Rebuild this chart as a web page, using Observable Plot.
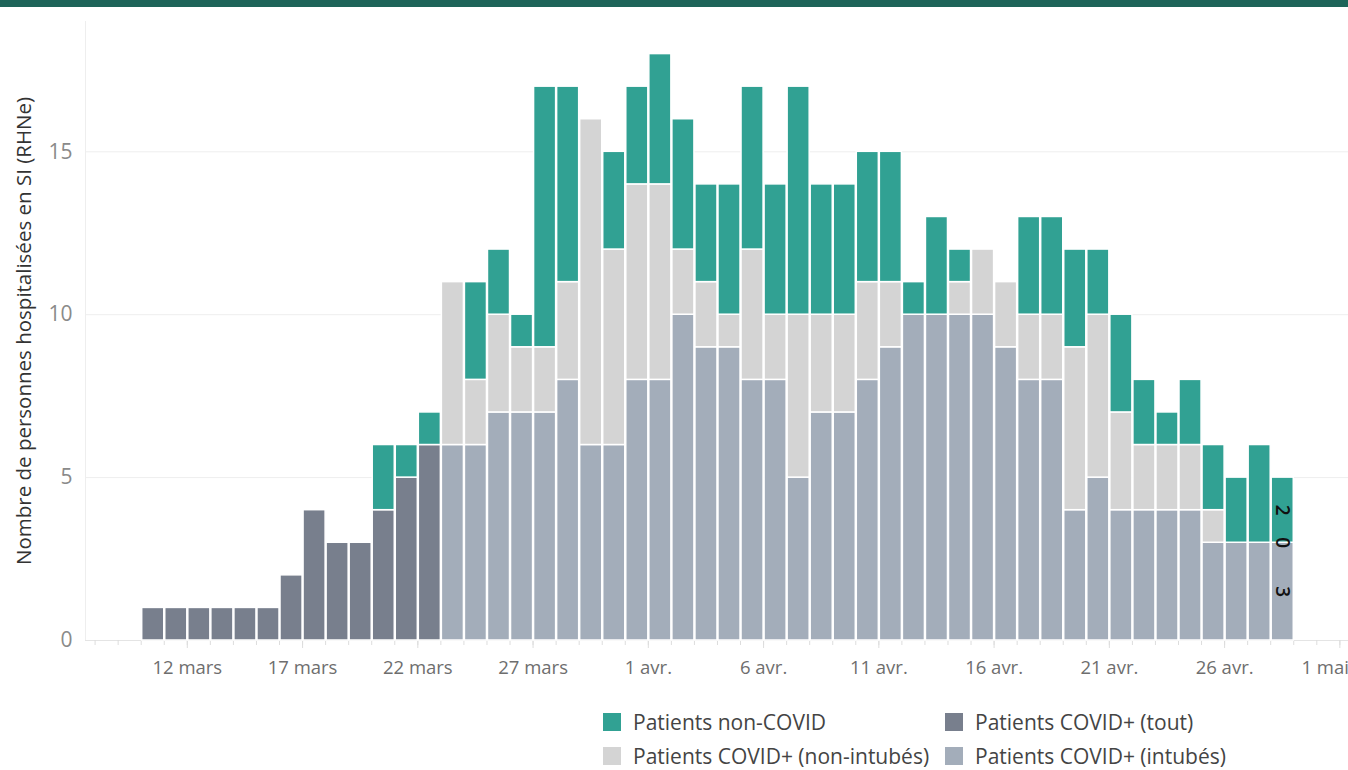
<!DOCTYPE html>
<html>
<head>
<meta charset="utf-8">
<script src="https://cdn.jsdelivr.net/npm/d3@7"></script>
<script src="https://cdn.jsdelivr.net/npm/@observablehq/plot@0.6"></script>
<style>
  html, body { margin: 0; padding: 0; background: #fff; width: 1348px; height: 770px; overflow: hidden; }
  #topbar { position: absolute; left: 0; top: 0; width: 1348px; height: 7px; background: #1e6459; }
  #chart { position: absolute; left: 0; top: 7px; }
  #legend { position: absolute; left: 0; top: 0; font-family: "Open Sans", sans-serif; }
  .item { position: absolute; display: flex; align-items: center; font-size: 21px; color: #444; white-space: nowrap; height: 20px; }
  .sw { width: 18px; height: 18px; margin-right: 12px; flex: none; }
</style>
</head>
<body>
<div id="topbar"></div>
<div id="chart"></div>
<div id="legend"></div>
<script>
// ---- Data ----
const dates = [
  "2020-03-10","2020-03-11","2020-03-12","2020-03-13","2020-03-14","2020-03-15","2020-03-16",
  "2020-03-17","2020-03-18","2020-03-19","2020-03-20","2020-03-21","2020-03-22","2020-03-23",
  "2020-03-24","2020-03-25","2020-03-26","2020-03-27","2020-03-28","2020-03-29","2020-03-30",
  "2020-03-31","2020-04-01","2020-04-02","2020-04-03","2020-04-04","2020-04-05","2020-04-06",
  "2020-04-07","2020-04-08","2020-04-09","2020-04-10","2020-04-11","2020-04-12","2020-04-13",
  "2020-04-14","2020-04-15","2020-04-16","2020-04-17","2020-04-18","2020-04-19","2020-04-20",
  "2020-04-21","2020-04-22","2020-04-23","2020-04-24","2020-04-25","2020-04-26","2020-04-27",
  "2020-04-28"
];
const covidTout = [1,1,1,1,1,1,2,4,3,3,4,5,6,
  0,0,0,0,0,0,0,0,0,
  0,0,0,0,0,0,0,0,0,0,0,0,0,0,0,0,0,0,0,0,0,0,0,0,0,0,0,0,0,0];
const covidIntubes = [0,0,0,0,0,0,0,0,0,0,0,0,0,
  6,6,7,7,7,8,6,6,8,
  8,10,9,9,8,8,5,7,7,8,9,10,10,10,10,9,8,8,4,5,4,4,4,4,3,3,3,3];
const covidNonIntubes = [0,0,0,0,0,0,0,0,0,0,0,0,0,
  5,2,3,2,2,3,10,6,6,
  6,2,2,1,4,2,5,3,3,3,2,0,0,1,2,2,2,2,5,5,3,2,2,2,1,0,0,0];
const nonCovid = [0,0,0,0,0,0,0,0,0,0,2,1,1,
  0,3,2,1,8,6,0,3,3,
  4,4,3,4,5,4,7,4,4,4,4,1,3,1,0,0,3,3,3,2,3,2,1,2,2,2,3,2];

const series = ["Patients COVID+ (tout)", "Patients COVID+ (intubés)", "Patients COVID+ (non-intubés)", "Patients non-COVID"];
const colors = ["#787f8d", "#a3adba", "#d4d4d4", "#31a193"];

const tickDates = ["2020-03-12","2020-03-17","2020-03-22","2020-03-27","2020-04-01","2020-04-06",
  "2020-04-11","2020-04-16","2020-04-21","2020-04-26","2020-05-01"];
const tickLabels = ["12 mars","17 mars","22 mars","27 mars","1 avr.","6 avr.","11 avr.","16 avr.","21 avr.","26 avr.","1 mai"];
const yTicks = [0, 5, 10, 15];
const yTitle = "Nombre de personnes hospitalisées en SI (RHNe)";

// ---- Long table ----
const arrays = [covidTout, covidIntubes, covidNonIntubes, nonCovid];
const rows = [];
dates.forEach((d, i) => {
  arrays.forEach((arr, k) => rows.push({date: new Date(d), series: series[k], value: arr[i]}));
});
const lastDate = +new Date(dates[dates.length - 1]);
const lastRows = rows.filter(d => +d.date === lastDate && d.series !== series[0]);

const tickDateObjs = tickDates.map(d => new Date(d));
const labelMap = new Map(tickDateObjs.map((d, i) => [+d, tickLabels[i]]));
const lastTick = tickDateObjs[tickDateObjs.length - 1];
const xDomain = [new Date(Date.UTC(2020, 2, 7, 14)), new Date(Date.UTC(2020, 4, 1, 9))];
const dayTicks = d3.utcDay.range(d3.utcDay.ceil(xDomain[0]), xDomain[1]);

const chart = Plot.plot({
  width: 1348,
  height: 683,
  marginTop: 14,
  marginBottom: 50,
  marginLeft: 85,
  marginRight: 0,
  style: {fontFamily: "'Open Sans', sans-serif", background: "white"},
  x: {type: "utc", domain: xDomain},
  y: {domain: [0, 19]},
  color: {domain: series, range: colors},
  marks: [
    Plot.ruleY([5, 10, 15], {stroke: "#eeeeee", strokeWidth: 1}),
    Plot.ruleY([0], {stroke: "#e4e4e4", strokeWidth: 1}),
    Plot.ruleX([xDomain[0]], {stroke: "#eeeeee", strokeWidth: 1}),
    Plot.axisY({ticks: yTicks, tickSize: 0, tickPadding: 13, fontSize: 21, fill: "#8a8a8a", label: null}),
    Plot.axisX({ticks: dayTicks, tickSize: 5, tickFormat: () => "", stroke: "#dddddd", label: null}),
    Plot.axisX({ticks: tickDateObjs, tickSize: 8, tickPadding: 12, fontSize: 18.5, fill: "#6e6e6e", stroke: "#dddddd",
      tickFormat: d => (+d === +lastTick ? "" : labelMap.get(+d)), label: null}),
    Plot.text([lastTick], {x: d => d, frameAnchor: "bottom", dy: 33, dx: 9, textAnchor: "end",
      text: d => labelMap.get(+d), fontSize: 18.5, fill: "#6e6e6e"}),
    Plot.text([yTitle], {frameAnchor: "left", textAnchor: "middle", dx: -61, rotate: -90, fontSize: 20.5, fill: "#333"}),
    Plot.rectY(rows.filter(d => d.value > 0), {
      x: "date", y: "value", z: "series", fill: "series", order: series, interval: "day",
      stroke: "white", strokeWidth: 1.5
    }),
    Plot.text(lastRows, Plot.stackY({order: series.slice(1)}, {
      x: d => new Date(+d.date + 12 * 3600 * 1000), y: "value", z: "series",
      text: "value", rotate: 90, fontSize: 19, fontWeight: 600, fill: "#111"
    }))
  ]
});
document.getElementById("chart").appendChild(chart);

// ---- Legend ----
const legendItems = [
  {s: 3, left: 603, top: 713},
  {s: 0, left: 945, top: 713},
  {s: 2, left: 603, top: 747},
  {s: 1, left: 945, top: 747}
];
const legend = document.getElementById("legend");
legendItems.forEach(({s, left, top}) => {
  const div = document.createElement("div");
  div.className = "item";
  div.style.left = left + "px";
  div.style.top = (top - 1) + "px";
  const sw = document.createElement("span");
  sw.className = "sw";
  sw.style.background = colors[s];
  div.appendChild(sw);
  div.appendChild(document.createTextNode(series[s]));
  legend.appendChild(div);
});
</script>
</body>
</html>
